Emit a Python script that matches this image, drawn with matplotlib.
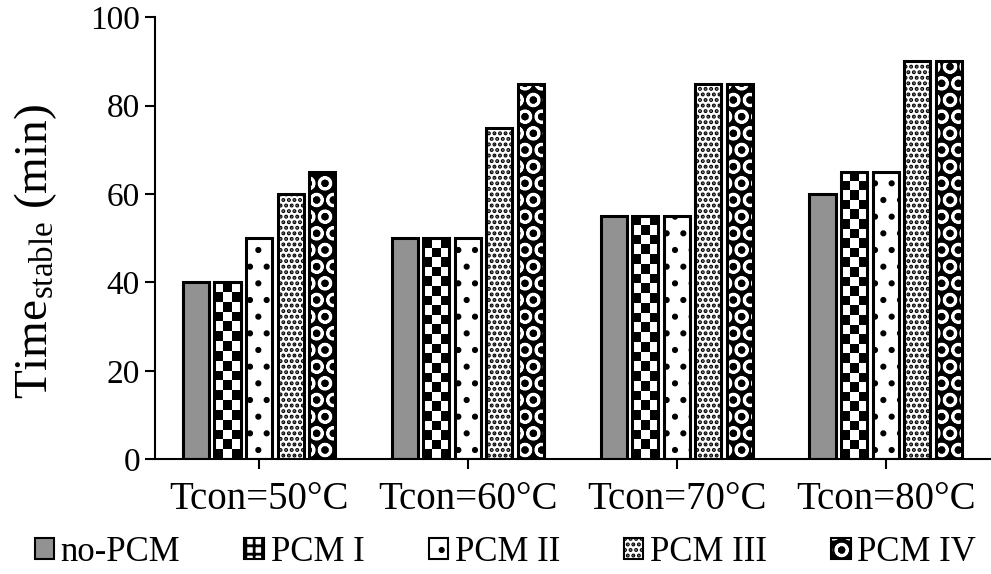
import numpy as np
import matplotlib
matplotlib.use("Agg")
import matplotlib.pyplot as plt
import matplotlib.patches as mpatches

plt.rcParams['font.family'] = ['Liberation Serif', 'DejaVu Serif']
plt.rcParams['mathtext.fontset'] = 'custom'
plt.rcParams['mathtext.rm'] = 'Liberation Serif'
plt.rcParams['mathtext.default'] = 'regular'
plt.rcParams['hatch.linewidth'] = 2.0

categories = ['Tcon=50°C', 'Tcon=60°C', 'Tcon=70°C', 'Tcon=80°C']
series = ['no-PCM', 'PCM I', 'PCM II', 'PCM III', 'PCM IV']
no_pcm = [40, 50, 55, 60]
pcm_1 = [40, 50, 55, 65]
pcm_2 = [50, 50, 55, 65]
pcm_3 = [60, 75, 85, 90]
pcm_4 = [65, 85, 85, 90]
values = [no_pcm, pcm_1, pcm_2, pcm_3, pcm_4]

# (facecolor, hatch, hatch colour)
styles = [
    ('#929292', '', 'black'),
    ('white', '', 'black'),      # checkerboard drawn as image below
    ('white', '.', 'black'),
    ('white', '...', 'black'),
    ('black', 'O', 'white'),
]

fig = plt.figure(figsize=(9.91, 5.74), dpi=100)
ax = fig.add_axes([0.156, 0.200, 0.843, 0.770])

x = np.arange(len(categories))
step = 0.151
width = 0.125
handles = []
for i, (vals, (fc, hatch, hc)) in enumerate(zip(values, styles)):
    pos = x + (i - 2) * step
    fill = ax.bar(pos, vals, width, color=fc, edgecolor=hc, hatch=hatch, linewidth=0)
    ax.bar(pos, vals, width, color='none', edgecolor='black', linewidth=2.2, zorder=3)
    if i == 1:
        # checkerboard texture clipped to each bar
        for b in fill:
            nrows = int(round(b.get_height() / 2.2))
            checker = (np.indices((nrows, 3)).sum(axis=0) % 2).astype(float)
            ax.imshow(checker, cmap='gray', vmin=0, vmax=1, aspect='auto',
                      interpolation='nearest', origin='lower',
                      extent=(b.get_x(), b.get_x() + b.get_width(), 0, b.get_height()),
                      clip_path=b, zorder=2)
        legend_patch = (mpatches.Patch(facecolor='white', edgecolor='black', hatch='++',
                                       linewidth=1.5),)
    else:
        legend_patch = (mpatches.Patch(facecolor=fc, edgecolor=hc, hatch=hatch, linewidth=0),
                        mpatches.Patch(facecolor='none', edgecolor='black', linewidth=1.5))
    handles.append(legend_patch)

ax.set_xlim(-0.5, 3.5)
ax.set_ylim(0, 100)
ax.set_yticks(np.arange(0, 101, 20))
ax.set_xticks(x)
ax.set_xticklabels(categories)
ax.tick_params(axis='both', labelsize=24, width=1.5, length=7, direction='out')
ax.tick_params(axis='x', labelsize=28, pad=9)
for s in ['top', 'right']:
    ax.spines[s].set_visible(False)
for s in ['left', 'bottom']:
    ax.spines[s].set_linewidth(1.5)
ax.set_ylabel('Time$_{stable}$ (min)', fontsize=34)
ax.yaxis.set_label_coords(-0.115, 0.47)

fig.legend(handles, series, loc='lower center', bbox_to_anchor=(0.51, -0.045),
           ncol=5, frameon=False, fontsize=25, handlelength=0.55, handleheight=0.55,
           handletextpad=0.2, columnspacing=1.85)

fig.savefig('out.png', dpi=100)
